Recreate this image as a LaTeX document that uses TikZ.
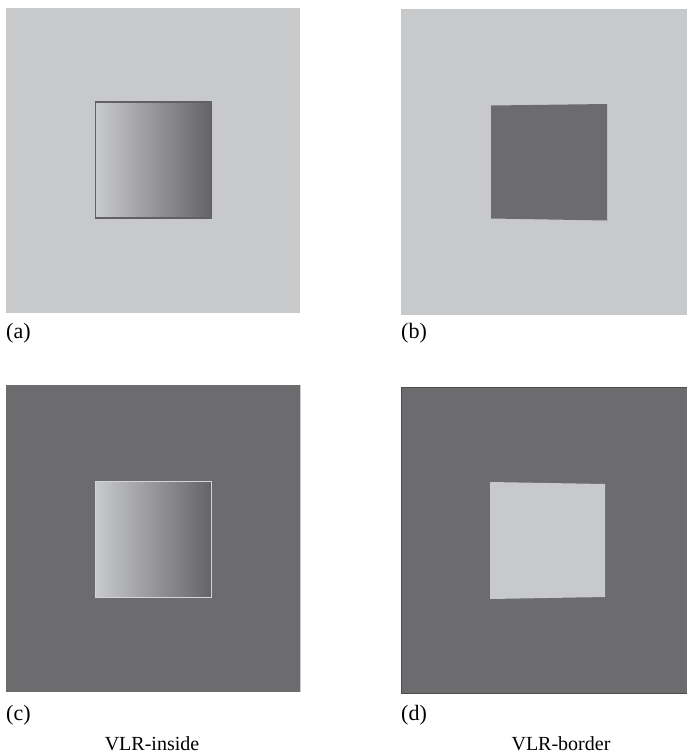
\documentclass[tikz,border=0pt]{standalone}
\usepackage{fontspec}
\setmainfont{Liberation Serif}
\definecolor{lightg}{HTML}{C8C9CB}
\definecolor{darkg}{HTML}{6C6C6E}
\definecolor{gradL}{HTML}{C9CACC}
\definecolor{gradR}{HTML}{646466}
\tikzset{
  lbl/.style={anchor=west, inner sep=0pt, font=\fontsize{22}{26}\selectfont},
  captext/.style={inner sep=0pt, font=\fontsize{20}{24}\selectfont},
}
\begin{document}
\begin{tikzpicture}[x=1pt,y=-1pt]
\useasboundingbox (0,0) rectangle (687,755);
% (a)
\fill[lightg] (6,8) rectangle (300,313);
\shade[left color=gradL, right color=gradR] (95.5,102) rectangle (211,218);
\draw[color=darkg!90!black, line width=1.4pt] (95.5,102) rectangle (211,218);
% (b)
\fill[lightg] (401,9) rectangle (687,315);
\fill[darkg] (491,105.5) -- (607,104) -- (607,220.5) -- (491,218.5) -- cycle;
% (c)
\fill[darkg] (6,385) rectangle (300,692);
\draw[color=lightg, line width=0.8pt] (300,385) -- (300,692);
\shade[left color=gradL, right color=gradR] (95,481) rectangle (211,597);
\draw[color=lightg!80!white, line width=1pt] (95,481) rectangle (211,597);
% (d)
\fill[darkg] (401,387) rectangle (687,693);
\draw[color=darkg!70!black, line width=1pt] (401,387) rectangle (687,693);
\fill[lightg] (490,482) -- (605,484) -- (605,597) -- (490,599) -- cycle;
% labels
\node[lbl] (la) at (6,333) {(a)};
\node[lbl] (lb) at (401,333) {(b)};
\node[lbl] (lc) at (6,715) {(c)};
\node[lbl] (ld) at (401,715) {(d)};
\node[captext] (ci) at (152,744) {VLR-inside};
\node[captext] (cb) at (561,744) {VLR-border};
\end{tikzpicture}
\end{document}
